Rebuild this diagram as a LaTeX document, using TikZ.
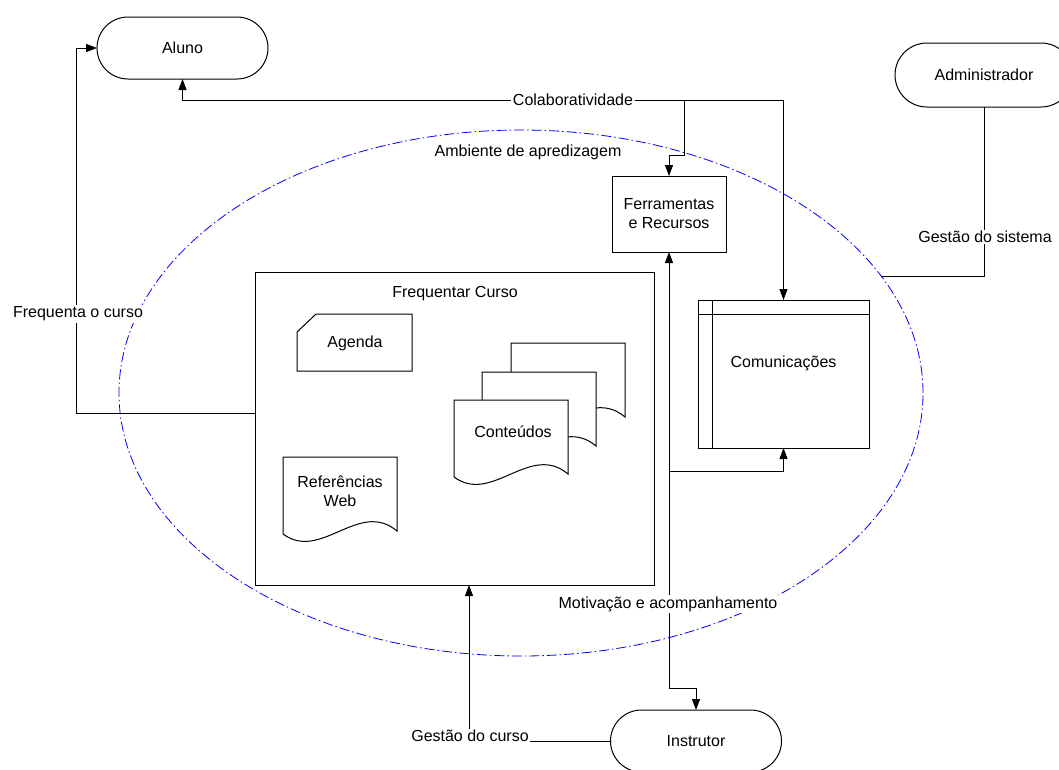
\documentclass[tikz,border=0pt]{standalone}
\usepackage{fontspec}
\setmainfont{Liberation Sans}
\usetikzlibrary{arrows.meta,shapes.geometric,calc}
% document shape (wavy bottom), top-left corner at (#1,#2), 114 x 77
\newcommand\docshape[2]{%
  \draw[shp,fill=white,shift={(#1,#2)}] (0,0) -- (114,0) -- (114,74)
    .. controls (76,42) and (38,105) .. (0,77) -- cycle;}
\begin{document}
\begin{tikzpicture}[x=1pt,y=-1pt,
  font=\fontsize{16}{19}\selectfont,
  shp/.style={draw=black,line width=1pt},
  term/.style={shp,rounded corners=31pt,minimum width=171pt,minimum height=62pt,inner sep=0pt,outer sep=0pt},
  boxnode/.style={shp,inner sep=0pt,outer sep=0pt},
  arr/.style={shp,-{Triangle[length=11pt,width=8pt]}},
  arrb/.style={shp,{Triangle[length=11pt,width=8pt]}-{Triangle[length=11pt,width=8pt]}},
  lbl/.style={fill=white,inner sep=1.5pt},
  region/.style={draw=blue,line width=0.8pt,dash pattern=on 10pt off 3pt on 1.5pt off 3pt,ellipse,inner sep=0pt,outer sep=0pt}
]
\useasboundingbox (0,0) rectangle (1059,769);

% learning environment
\node[region,minimum width=804pt,minimum height=526pt] (amb) at (521,393) {};
\node (lamb) at (528,152) {Ambiente de apredizagem};

% actors
\node[term] (aluno) at (182.5,48) {Aluno};
\node[term,rounded corners=32pt,minimum width=178pt,minimum height=64pt] (admin) at (984,75) {Administrador};
\node[term] (instr) at (696,741) {Instrutor};

% course box and its contents
\node[boxnode,minimum width=399pt,minimum height=313pt] (freq) at (454.5,428.5) {};
\node (lfc) at (455,294) {Frequentar Curso};

\draw[shp] (297,332) -- (316,314) -- (412,314) -- (412,371) -- (297,371) -- cycle;
\node (agenda) at (355,343) {Agenda};

\docshape{511}{343}
\docshape{482}{372}
\docshape{454}{400}
\node (cont) at (513,432) {Conteúdos};

\docshape{283}{457}
\node[align=center] (refs) at (340,491) {Referências\\Web};

% tools and communications
\node[boxnode,minimum width=114pt,minimum height=76pt,align=center] (ferr) at (669,214) {Ferramentas\\e Recursos};
\node[boxnode,minimum width=171pt,minimum height=148pt] (comm) at (783.5,374) {};
\draw[shp] (712,300) -- (712,448);
\draw[shp] (698,314) -- (869,314);
\node (lcomm) at (783.5,363) {Comunicações};

% connectors
\coordinate (fq) at (76,413);
\draw[arr] ([yshift=15.5pt]freq.west) -- (fq) |- (aluno.west);

\coordinate (ctop) at (783.5,100);
\draw[arrb] (aluno.south) |- (ctop) -- (comm.north);
\coordinate (cbr) at (684,100);
\coordinate (cbend) at (684,155);
\draw[arr] (cbr) -- (cbend) -| (ferr.north);

\coordinate (mbend) at (669,688);
\draw[arrb] (ferr.south) -- (mbend) -| (instr.north);
\coordinate (mbr) at (669,471);
\draw[arr] (mbr) -| (comm.south);

\coordinate (gbend) at (469,741);
\draw[arr] (instr.west) -- (gbend) -- (gbend |- freq.south);

\draw[shp] (admin.south) |- (amb.18.7);

% connector labels
\node[lbl] (lfreq) at (78,314) {Frequenta o curso};
\node[lbl] (lcol) at (573,100) {Colaboratividade};
\node[lbl] (lmot) at (668,604) {Motivação e acompanhamento};
\node[lbl] (lgc) at (470,736) {Gestão do curso};
\node[lbl] (lgs) at (985,237) {Gestão do sistema};
\end{tikzpicture}
\end{document}
